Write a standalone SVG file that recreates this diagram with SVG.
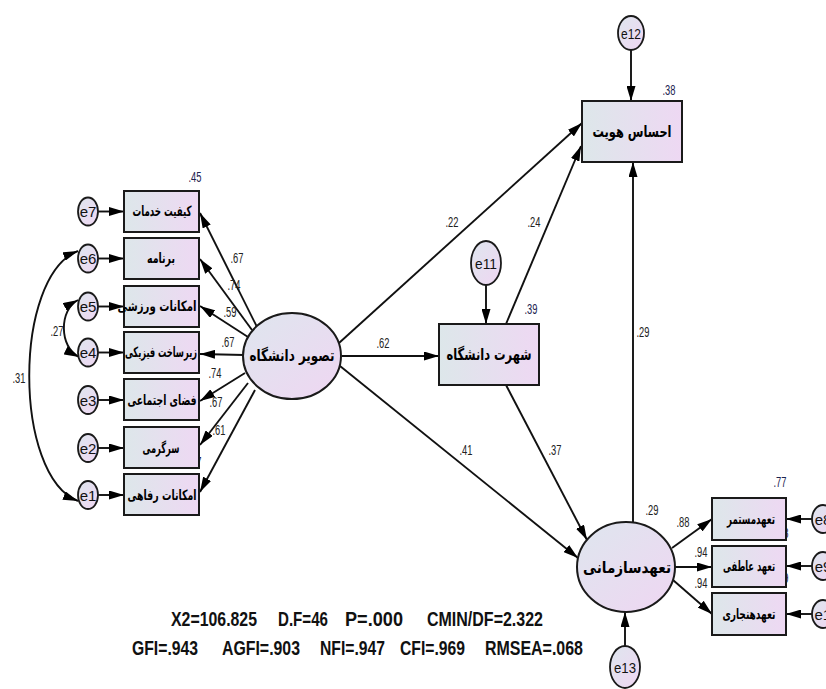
<svg xmlns="http://www.w3.org/2000/svg" width="826" height="689" viewBox="0 0 826 689">
<defs>
<linearGradient id="gb" x1="0" y1="0" x2="1" y2="0"><stop offset="0" stop-color="#dde7ea"/><stop offset="1" stop-color="#eed8f3"/></linearGradient>
<linearGradient id="ge" x1="0" y1="0" x2="1" y2="1"><stop offset="0" stop-color="#dee6ee"/><stop offset="1" stop-color="#efd6f2"/></linearGradient>
<marker id="ah" viewBox="0 0 15 9" refX="15" refY="4.5" markerWidth="15" markerHeight="9" markerUnits="userSpaceOnUse" orient="auto-start-reverse"><path d="M0,0 L15,4.5 L0,9 z" fill="#000"/></marker>
<style>
.box{fill:url(#gb);stroke:#1a1a1a;stroke-width:2}
.lat{fill:url(#ge);stroke:#1a1a1a;stroke-width:2}
.err{fill:url(#ge);stroke:#1a1a1a;stroke-width:1.8}
.fa{font-family:"DejaVu Sans",sans-serif;font-weight:bold;font-size:14px;text-anchor:middle;fill:#000}
.fl{font-size:16px}
.el{font-family:"Liberation Sans",Arial,sans-serif;font-size:15px;text-anchor:middle;fill:#111}
.lb{font-family:"Liberation Sans",Arial,sans-serif;font-size:14px;text-anchor:middle;fill:#222}
.r2{fill:#1c2350}
.st{font-family:"Liberation Sans",Arial,sans-serif;font-weight:bold;font-size:21px;fill:#111}
.ln{fill:none;stroke:#111;stroke-width:1.9}
.ar{marker-end:url(#ah)}
.ar2{marker-start:url(#ah);marker-end:url(#ah)}
</style>
</defs>
<rect width="826" height="689" fill="#fff"/>

<g id="connectors">
<path class="ln ar" d="M257,327 L200,213"/>
<path class="ln ar" d="M252,330 L200,259"/>
<path class="ln ar" d="M248,337 L200,306"/>
<path class="ln ar" d="M244,355 L200,354"/>
<path class="ln ar" d="M245,373 L200,401"/>
<path class="ln ar" d="M248,383 L200,445"/>
<path class="ln ar" d="M255,390 L200,492"/>
<path class="ln ar" d="M98,211.5 L124,211.5"/>
<path class="ln ar" d="M98,258.5 L124,258.5"/>
<path class="ln ar" d="M98,306.5 L124,306.5"/>
<path class="ln ar" d="M98,352.5 L124,352.5"/>
<path class="ln ar" d="M98,400 L124,400"/>
<path class="ln ar" d="M98,448 L124,448"/>
<path class="ln ar" d="M98,495 L124,495"/>
<path class="ln ar2" d="M78,251 C13,276 13,476 78,501"/>
<path class="ln ar2" d="M78,300 C59,310 59,347 79,357"/>
<path class="ln ar" d="M342,356 L439,356"/>
<path class="ln ar" d="M339,343 L582,123"/>
<path class="ln ar" d="M506,324 L581,146"/>
<path class="ln ar" d="M340,366 L578,558"/>
<path class="ln ar" d="M506,385 L587,540"/>
<path class="ln ar" d="M633,522 L633,162"/>
<path class="ln ar" d="M486,285 L486,324"/>
<path class="ln ar" d="M631,50 L631,101"/>
<path class="ln ar" d="M625,646 L625,612"/>
<path class="ln ar" d="M672,548 L712,519"/>
<path class="ln ar" d="M675,567 L712,567"/>
<path class="ln ar" d="M673,580 L712,614"/>
<path class="ln ar" d="M812,519 L786,519"/>
<path class="ln ar" d="M812,566 L786,566"/>
<path class="ln ar" d="M812,614 L786,614"/>
</g>

<g id="labels">
<text class="lb" x="237" y="263" textLength="13" lengthAdjust="spacingAndGlyphs">.67</text>
<text class="lb" x="234" y="290" textLength="13" lengthAdjust="spacingAndGlyphs">.74</text>
<text class="lb" x="230" y="317" textLength="13" lengthAdjust="spacingAndGlyphs">.59</text>
<text class="lb" x="228" y="347" textLength="13" lengthAdjust="spacingAndGlyphs">.67</text>
<text class="lb" x="215" y="378" textLength="13" lengthAdjust="spacingAndGlyphs">.74</text>
<text class="lb" x="216" y="407" textLength="13" lengthAdjust="spacingAndGlyphs">.67</text>
<text class="lb" x="219" y="435" textLength="13" lengthAdjust="spacingAndGlyphs">.61</text>
<text class="lb" x="57" y="336" textLength="13" lengthAdjust="spacingAndGlyphs">.27</text>
<text class="lb" x="19" y="383" textLength="13" lengthAdjust="spacingAndGlyphs">.31</text>
<text class="lb" x="452" y="227" textLength="13" lengthAdjust="spacingAndGlyphs">.22</text>
<text class="lb" x="534" y="227" textLength="13" lengthAdjust="spacingAndGlyphs">.24</text>
<text class="lb" x="383" y="348" textLength="13" lengthAdjust="spacingAndGlyphs">.62</text>
<text class="lb" x="466" y="455" textLength="13" lengthAdjust="spacingAndGlyphs">.41</text>
<text class="lb" x="555" y="455" textLength="13" lengthAdjust="spacingAndGlyphs">.37</text>
<text class="lb" x="643" y="337" textLength="13" lengthAdjust="spacingAndGlyphs">.29</text>
<text class="lb" x="683" y="527" textLength="13" lengthAdjust="spacingAndGlyphs">.88</text>
<text class="lb" x="701" y="557" textLength="13" lengthAdjust="spacingAndGlyphs">.94</text>
<text class="lb" x="701" y="588" textLength="13" lengthAdjust="spacingAndGlyphs">.94</text>
<text class="lb r2" x="195" y="182" textLength="13" lengthAdjust="spacingAndGlyphs">.45</text>
<text class="lb r2" x="193" y="230" textLength="13" lengthAdjust="spacingAndGlyphs">.55</text>
<text class="lb r2" x="193" y="277" textLength="13" lengthAdjust="spacingAndGlyphs">.35</text>
<text class="lb r2" x="193" y="325" textLength="13" lengthAdjust="spacingAndGlyphs">.45</text>
<text class="lb r2" x="193" y="371" textLength="13" lengthAdjust="spacingAndGlyphs">.54</text>
<text class="lb r2" x="193" y="418" textLength="13" lengthAdjust="spacingAndGlyphs">.44</text>
<text class="lb r2" x="195" y="467" textLength="13" lengthAdjust="spacingAndGlyphs">.37</text>
<text class="lb r2" x="531" y="314" textLength="13" lengthAdjust="spacingAndGlyphs">.39</text>
<text class="lb r2" x="669" y="95" textLength="13" lengthAdjust="spacingAndGlyphs">.38</text>
<text class="lb" x="652" y="515" textLength="13" lengthAdjust="spacingAndGlyphs">.29</text>
<text class="lb r2" x="780" y="487" textLength="13" lengthAdjust="spacingAndGlyphs">.77</text>
<text class="lb r2" x="782" y="538" textLength="13" lengthAdjust="spacingAndGlyphs">.88</text>
<text class="lb r2" x="782" y="583" textLength="13" lengthAdjust="spacingAndGlyphs">.89</text>
</g>

<g id="v1"><rect class="box" x="124" y="191" width="75" height="41"/><text class="fa" x="162" y="216" textLength="59" lengthAdjust="spacingAndGlyphs">کیفیت خدمات</text></g>
<g id="v2"><rect class="box" x="124" y="238" width="75" height="41"/><text class="fa" x="161" y="263" textLength="28" lengthAdjust="spacingAndGlyphs">برنامه</text></g>
<g id="v3"><rect class="box" x="124" y="286" width="75" height="41"/><text class="fa" x="157" y="311" textLength="79" lengthAdjust="spacingAndGlyphs">امکانات ورزشی</text></g>
<g id="v4"><rect class="box" x="124" y="332" width="75" height="41"/><text class="fa" x="161" y="357" textLength="72" lengthAdjust="spacingAndGlyphs">زیرساخت فیزیکی</text></g>
<g id="v5"><rect class="box" x="124" y="379" width="75" height="41"/><text class="fa" x="162" y="405" textLength="69" lengthAdjust="spacingAndGlyphs">فضای اجتماعی</text></g>
<g id="v6"><rect class="box" x="124" y="427" width="75" height="41"/><text class="fa" x="161" y="453" textLength="37" lengthAdjust="spacingAndGlyphs">سرگرمی</text></g>
<g id="v7"><rect class="box" x="124" y="474" width="75" height="41"/><text class="fa" x="162" y="500" textLength="69" lengthAdjust="spacingAndGlyphs">امکانات رفاهی</text></g>

<g id="e7"><ellipse class="err" cx="88" cy="211.5" rx="10" ry="14"/><text class="el" x="88" y="217">e7</text></g>
<g id="e6"><ellipse class="err" cx="88" cy="258.5" rx="10" ry="14"/><text class="el" x="88" y="264">e6</text></g>
<g id="e5"><ellipse class="err" cx="88" cy="306.5" rx="10" ry="14"/><text class="el" x="88" y="312">e5</text></g>
<g id="e4"><ellipse class="err" cx="88" cy="352.5" rx="10" ry="14"/><text class="el" x="88" y="358">e4</text></g>
<g id="e3"><ellipse class="err" cx="88" cy="400" rx="10" ry="14"/><text class="el" x="88" y="405.5">e3</text></g>
<g id="e2"><ellipse class="err" cx="88" cy="448" rx="10" ry="14"/><text class="el" x="88" y="453.5">e2</text></g>
<g id="e1"><ellipse class="err" cx="88" cy="495" rx="10" ry="14"/><text class="el" x="88" y="500.5">e1</text></g>

<g id="image"><ellipse class="lat" cx="292" cy="356" rx="49" ry="43"/><text class="fa fl" x="292" y="361" textLength="85" lengthAdjust="spacingAndGlyphs">تصویر دانشگاه</text></g>
<g id="reputation"><rect class="box" x="439" y="324" width="100" height="61"/><text class="fa fl" x="489" y="360" textLength="85" lengthAdjust="spacingAndGlyphs">شهرت دانشگاه</text></g>
<g id="identity"><rect class="box" x="582" y="101" width="100" height="61"/><text class="fa fl" x="632" y="137" textLength="79" lengthAdjust="spacingAndGlyphs">احساس هویت</text></g>
<g id="commitment"><ellipse class="lat" cx="626" cy="567" rx="49" ry="45"/><text class="fa fl" x="627" y="573" textLength="88" lengthAdjust="spacingAndGlyphs">تعهدسازمانی</text></g>

<g id="c1"><rect class="box" x="712" y="498" width="74" height="42"/><text class="fa" x="751" y="524" textLength="48" lengthAdjust="spacingAndGlyphs">تعهدمستمر</text></g>
<g id="c2"><rect class="box" x="712" y="546" width="74" height="41"/><text class="fa" x="749" y="571" textLength="52" lengthAdjust="spacingAndGlyphs">تعهد عاطفی</text></g>
<g id="c3"><rect class="box" x="712" y="593" width="74" height="42"/><text class="fa" x="749" y="619" textLength="53" lengthAdjust="spacingAndGlyphs">تعهدهنجاری</text></g>

<g id="e11"><ellipse class="err" cx="486" cy="263" rx="15" ry="22"/><text class="el" x="486" y="269" font-size="17" textLength="22" lengthAdjust="spacingAndGlyphs">e11</text></g>
<g id="e12"><ellipse class="err" cx="631" cy="33" rx="13" ry="17"/><text class="el" x="631" y="38.5" textLength="20" lengthAdjust="spacingAndGlyphs">e12</text></g>
<g id="e13"><ellipse class="err" cx="625" cy="667" rx="15" ry="21"/><text class="el" x="625" y="673" font-size="17" textLength="22" lengthAdjust="spacingAndGlyphs">e13</text></g>
<g id="e8"><ellipse class="err" cx="823" cy="519" rx="11" ry="14"/><text class="el" x="823" y="525" font-size="17">e8</text></g>
<g id="e9"><ellipse class="err" cx="823" cy="566" rx="11" ry="14"/><text class="el" x="823" y="572" font-size="17">e9</text></g>
<g id="e10"><ellipse class="err" cx="823" cy="614" rx="11" ry="14"/><text class="el" x="827" y="620" font-size="17">e10</text></g>

<g id="fit">
<text class="st" x="171" y="626" textLength="86" lengthAdjust="spacingAndGlyphs">X2=106.825</text>
<text class="st" x="278" y="626" textLength="50" lengthAdjust="spacingAndGlyphs">D.F=46</text>
<text class="st" x="345" y="626" textLength="58" lengthAdjust="spacingAndGlyphs">P=.000</text>
<text class="st" x="427" y="626" textLength="116" lengthAdjust="spacingAndGlyphs">CMIN/DF=2.322</text>
<text class="st" x="132" y="655" textLength="66" lengthAdjust="spacingAndGlyphs">GFI=.943</text>
<text class="st" x="222" y="655" textLength="78" lengthAdjust="spacingAndGlyphs">AGFI=.903</text>
<text class="st" x="320" y="655" textLength="65" lengthAdjust="spacingAndGlyphs">NFI=.947</text>
<text class="st" x="400" y="655" textLength="65" lengthAdjust="spacingAndGlyphs">CFI=.969</text>
<text class="st" x="485" y="655" textLength="98" lengthAdjust="spacingAndGlyphs">RMSEA=.068</text>
</g>
</svg>
